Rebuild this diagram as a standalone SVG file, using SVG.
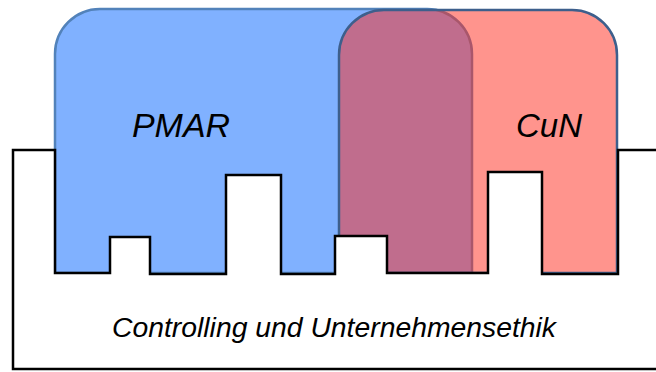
<svg xmlns="http://www.w3.org/2000/svg" width="656" height="372" viewBox="0 0 656 372">
  <style>
    .lbl { font-family: "Liberation Sans", Arial, sans-serif; font-style: italic; fill: #000; }
  </style>
  <rect width="656" height="372" fill="#ffffff"/>
  <g id="pmar">
    <path d="M55,273 L55,54 A45,45 0 0 1 100,9 L427,9 A45,45 0 0 1 472,54 L472,273 Z" fill="#80b1ff" stroke="#5282ba" stroke-width="2.5"/>
  </g>
  <g id="cun">
    <path d="M339,273 L339,55 A45,45 0 0 1 384,10 L572,10 A45,45 0 0 1 617,55 L617,273 Z" fill="#ff2a1c" fill-opacity="0.5" stroke="#3d5f8c" stroke-width="2.5"/>
  </g>
  <g id="base">
    <path d="M13,150 L55,150 L55,273 L110,273 L110,237 L150,237 L150,274 L226,274 L226,175 L281,175 L281,274 L335,274 L335,236 L387,236 L387,273 L488,273 L488,172 L542,172 L542,274 L618,274 L618,150 L662,150 L662,369 L13,369 Z" fill="#ffffff" stroke="#000000" stroke-width="2.5" stroke-linejoin="miter"/>
  </g>
  <g id="labels">
    <text class="lbl" x="132" y="137" font-size="34" textLength="98" lengthAdjust="spacingAndGlyphs">PMAR</text>
    <text class="lbl" x="516" y="137" font-size="34" textLength="66" lengthAdjust="spacingAndGlyphs">CuN</text>
    <text class="lbl" x="112" y="337" font-size="27" textLength="444" lengthAdjust="spacingAndGlyphs">Controlling und Unternehmensethik</text>
  </g>
</svg>
